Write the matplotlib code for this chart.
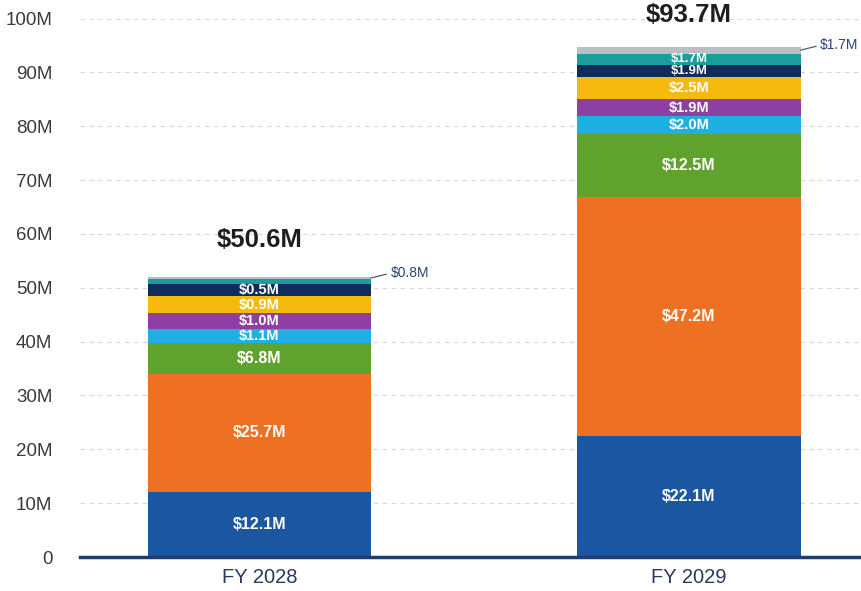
import matplotlib
matplotlib.use("Agg")
import matplotlib.pyplot as plt

plt.rcParams.update({"font.family": ["Liberation Sans", "DejaVu Sans"]})

years = ["FY 2028", "FY 2029"]
colors = ["#1b56a0", "#ee7022", "#5fa22e", "#1fb0e2", "#8e3fa1",
          "#f6b90e", "#0f2d5c", "#1b9e9b", "#b9bfc5"]
# segment heights ($M), bottom to top, as drawn in the picture
fy28 = [12.1, 21.9, 5.8, 2.6, 3.0, 3.0, 2.4, 0.75, 0.55]
fy29 = [22.4, 44.5, 11.6, 3.4, 3.1, 4.2, 2.2, 2.1, 1.3]
lab28 = ["$12.1M", "$25.7M", "$6.8M", "$1.1M", "$1.0M", "$0.9M", "$0.5M", "", ""]
lab29 = ["$22.1M", "$47.2M", "$12.5M", "$2.0M", "$1.9M", "$2.5M", "$1.9M", "$1.7M", ""]
totals = ["$50.6M", "$93.7M"]
callouts = ["$0.8M", "$1.7M"]

NAVY = "#1d3d6e"

fig = plt.figure(figsize=(8.61, 5.91), dpi=100)
ax = fig.add_axes([0.093, 0.0575, 0.907, 0.911])
ax.set_xlim(-0.417, 1.40)
ax.set_ylim(0, 100)

W = 0.52
for i, (vals, labs) in enumerate([(fy28, lab28), (fy29, lab29)]):
    bottom = 0
    for v, c, lab in zip(vals, colors, labs):
        ax.bar(i, v, W, bottom=bottom, color=c, zorder=2, linewidth=0)
        if lab:
            fs = 11.5 if v > 5 else (10.5 if v > 2.3 else 9.5)
            ax.text(i, bottom + v / 2, lab, ha="center", va="center",
                    color="white", fontsize=fs, fontweight="bold", zorder=4)
        bottom += v
    top = bottom
    gray_mid = top - vals[-1] / 2
    # callout for the thin top segment
    x0 = i + W / 2
    ax.plot([x0, x0 + 0.035], [gray_mid, gray_mid + 0.7], color="#4a5d80",
            lw=0.9, zorder=3, clip_on=False)
    ax.text(x0 + 0.045, gray_mid + 0.9, callouts[i], ha="left", va="center",
            fontsize=10, color="#2d4473", zorder=4)

ax.text(0, 58.8, totals[0], ha="center", va="center", fontsize=18.5,
        fontweight="bold", color="#1e1e1e")
ax.text(1, 100.6, totals[1], ha="center", va="center", fontsize=18.5,
        fontweight="bold", color="#1e1e1e", clip_on=False)

yt = list(range(0, 101, 10))
ax.set_yticks(yt)
ax.set_yticklabels(["0"] + [f"{t}M" for t in yt[1:]])
for t in yt[1:]:
    ax.axhline(t, color="#d6d6d6", lw=0.8, ls=(0, (4, 4)), zorder=1)

ax.set_xticks([0, 1])
ax.set_xticklabels(years)
ax.tick_params(axis="y", length=0, pad=20, labelsize=13.5, labelcolor="#3a3a3a")
ax.tick_params(axis="x", length=0, pad=8, labelsize=14.5, labelcolor="#2b3a5a")

for s in ["left", "right", "top"]:
    ax.spines[s].set_visible(False)
ax.spines["bottom"].set_color(NAVY)
ax.spines["bottom"].set_linewidth(2.5)
ax.spines["bottom"].set_zorder(5)

fig.savefig("out.png", dpi=100, facecolor="white")
